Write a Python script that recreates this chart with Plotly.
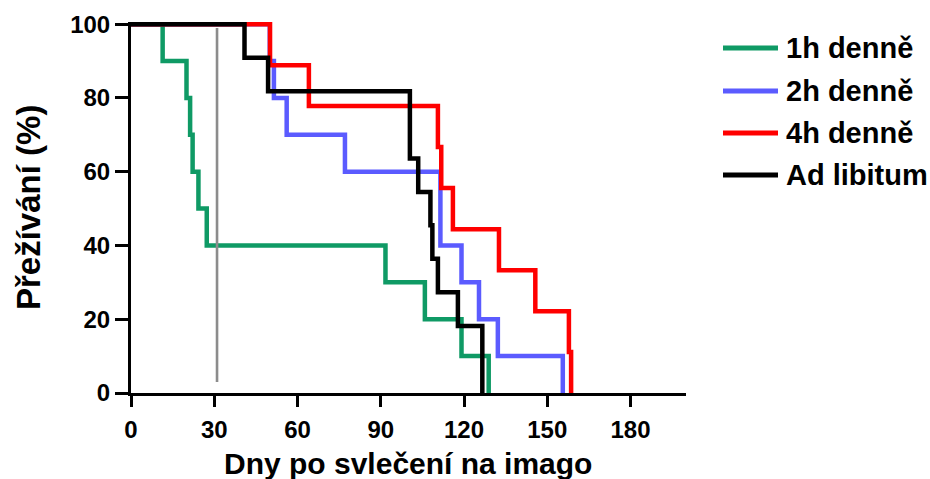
import plotly.graph_objects as go

# Kaplan-Meier survival: day of each event and survival (%) after it
green_days = [0, 11.4, 20.0, 21.3, 22.2, 24.3, 27.3, 91.7, 105.9, 119.1, 128.9]
green_surv = [100, 90, 80, 70, 60, 50, 40, 30, 20, 10, 0]

blue_days = [0, 50.0, 51.5, 56.1, 77.1, 111.5, 119.1, 125.4, 132.2, 155.6]
blue_surv = [100, 90, 80, 70, 60, 40, 30, 20, 10, 0]

red_days = [0, 50.1, 64.1, 110.6, 111.8, 116.0, 132.6, 145.7, 157.8, 158.6]
red_surv = [100, 88.9, 77.8, 66.7, 55.6, 44.4, 33.3, 22.2, 11.1, 0]

black_days = [0, 40.9, 49.4, 100.5, 103.5, 107.9, 108.6, 110.6, 117.8, 126.6]
black_surv = [100, 90.9, 81.8, 63.6, 54.5, 45.5, 36.4, 27.3, 18.2, 0]

group_names = ["1h denně", "2h denně", "4h denně", "Ad libitum"]
group_colors = ["#0f9a65", "#5b5bff", "#ff0000", "#000000"]

# vertical reference mark
marker_day = 31
marker_span = [3, 99]

x_ticks = [0, 30, 60, 90, 120, 150, 180]
y_ticks = [0, 20, 40, 60, 80, 100]

x_title = "Dny po svlečení na imago"
y_title = "Přežívání (%)"

FONT = "Arial, Liberation Sans, sans-serif"

fig = go.Figure()
series = [(green_days, green_surv), (blue_days, blue_surv),
          (red_days, red_surv), (black_days, black_surv)]
for (d, s), name, col in zip(series, group_names, group_colors):
    fig.add_trace(go.Scatter(x=d, y=s, mode="lines", name=name,
                             line=dict(color=col, width=4.5, shape="hv"),
                             showlegend=False))

fig.add_trace(go.Scatter(x=[marker_day, marker_day], y=marker_span, mode="lines",
                         line=dict(color="#8c8c8c", width=2.6), showlegend=False))

L, R, T, B = 131, 244, 22, 86
W, H = 930, 479
pw, ph = W - L - R, H - T - B

def px_x(px):
    return (px - L) / pw

def px_y(py):
    return (H - B - py) / ph

def bold(size):
    return dict(family=FONT, size=size, color="black", weight="bold")

# legend drawn as line samples and labels at the right of the plot
leg_rows = [48, 91, 133, 175]
shapes = []
annotations = []
for row, name, col in zip(leg_rows, group_names, group_colors):
    shapes.append(dict(type="line", xref="paper", yref="paper",
                       x0=px_x(723), x1=px_x(778), y0=px_y(row), y1=px_y(row),
                       line=dict(color=col, width=5)))
    annotations.append(dict(xref="paper", yref="paper", x=px_x(784), y=px_y(row),
                            xanchor="left", yanchor="middle", text=name,
                            showarrow=False, font=bold(29)))

# axis titles
annotations.append(dict(xref="paper", yref="paper", x=px_x(408), y=px_y(463),
                        xanchor="center", yanchor="middle", text=x_title,
                        showarrow=False, font=bold(30)))
annotations.append(dict(xref="paper", yref="paper", x=px_x(28), y=px_y(208),
                        xanchor="center", yanchor="middle", text=y_title,
                        textangle=-90, showarrow=False, font=bold(33)))

fig.update_layout(
    width=W, height=H,
    margin=dict(l=L, r=R, t=T, b=B),
    paper_bgcolor="white", plot_bgcolor="white",
    shapes=shapes, annotations=annotations,
    font=dict(family=FONT, color="black"),
    xaxis=dict(range=[0, 200], tickvals=x_ticks, ticks="outside", ticklen=11,
               tickwidth=3, tickcolor="black", showline=True, linewidth=3,
               linecolor="black", showgrid=False, zeroline=False,
               automargin=False, ticklabelstandoff=2, tickfont=bold(24)),
    yaxis=dict(range=[0, 100.6], tickvals=y_ticks, ticks="outside", ticklen=13,
               tickwidth=3, tickcolor="black", showline=True, linewidth=3,
               linecolor="black", showgrid=False, zeroline=False,
               automargin=False, tickfont=bold(24)),
)

fig.write_html("out.html")
